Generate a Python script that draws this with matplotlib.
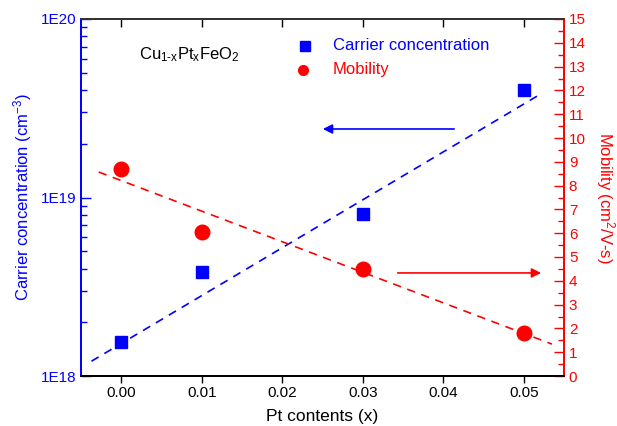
import matplotlib
matplotlib.use("Agg")
import matplotlib.pyplot as plt
import numpy as np
from matplotlib.ticker import LogLocator, MultipleLocator, FixedLocator, NullFormatter

plt.rcParams['font.family'] = ['Liberation Sans', 'DejaVu Sans']
plt.rcParams['mathtext.fontset'] = 'custom'
plt.rcParams['mathtext.rm'] = 'Liberation Sans'
plt.rcParams['mathtext.it'] = 'Liberation Sans'

pt_x = [0.00, 0.01, 0.03, 0.05]
carrier = [1.56e18, 3.84e18, 8.06e18, 4.0e19]
mobility = [8.68, 6.04, 4.5, 1.79]

carrier_fit_x = [-0.0037, 0.05235]
carrier_fit_y = [1.21e18, 3.86e19]
mobility_fit_x = [-0.0028, 0.0535]
mobility_fit_y = [8.57, 1.34]

xticks = [0.00, 0.01, 0.02, 0.03, 0.04, 0.05]
xtick_labels = ["0.00", "0.01", "0.02", "0.03", "0.04", "0.05"]

BLUE = '#0000FF'
RED = '#FF0000'

fig = plt.figure(figsize=(6.17, 4.26), dpi=100)
ax = fig.add_axes([81/617, 1-376/426, (564-81)/617, (376-19)/426])
ax2 = ax.twinx()

ax.set_yscale('log')
ax.set_xlim(-0.005, 0.055)
ax.set_ylim(1e18, 1e20)
ax2.set_ylim(0, 15)

ax.plot(carrier_fit_x, carrier_fit_y, ls=(0, (5, 4)), color=BLUE, lw=1.2)
ax.plot(pt_x, carrier, 's', color=BLUE, ms=9, ls='none')
ax2.plot(mobility_fit_x, mobility_fit_y, ls=(0, (5, 4)), color=RED, lw=1.2)
ax2.plot(pt_x, mobility, 'o', color=RED, ms=10.5, ls='none')

# arrows
ax.annotate('', xy=(0.0247, 2.42e19), xytext=(0.0417, 2.42e19),
            arrowprops=dict(arrowstyle='-|>', color=BLUE, lw=1.2, mutation_scale=14))
ax2.annotate('', xy=(0.0525, 4.33), xytext=(0.034, 4.33),
             arrowprops=dict(arrowstyle='-|>', color=RED, lw=1.2, mutation_scale=14))

# ticks
ax.set_xticks(xticks)
ax.set_xticklabels(xtick_labels)
ax.tick_params(axis='x', which='major', direction='out', length=5, width=1, labelsize=11, top=False, pad=2)
ax.xaxis.set_minor_locator(FixedLocator([]))
ax.yaxis.set_major_locator(FixedLocator([1e18, 1e19, 1e20]))
ax.set_yticklabels(['1E18', '1E19', '1E20'])
ax.yaxis.set_minor_locator(LogLocator(base=10, subs=np.arange(2, 10)))
ax.yaxis.set_minor_formatter(NullFormatter())
ax.tick_params(axis='y', which='major', direction='in', length=7, width=1, colors=BLUE, labelsize=11)
ax.tick_params(axis='y', which='minor', direction='in', length=4, width=1, colors=BLUE)
# top ticks inward
secx = ax.secondary_xaxis('top')
secx.set_xticks(xticks)
secx.tick_params(axis='x', direction='in', length=6, width=1, labeltop=False)
secx.spines['top'].set_visible(False)

ax2.yaxis.set_major_locator(MultipleLocator(1))
ax2.yaxis.set_minor_locator(MultipleLocator(0.5))
ax2.tick_params(axis='y', which='major', direction='in', length=7, width=1, colors=RED, labelsize=11)
ax2.tick_params(axis='y', which='minor', direction='in', length=4, width=1, colors=RED)

for a in (ax, ax2):
    a.spines['left'].set_color(BLUE)
    a.spines['right'].set_color(RED)
    a.spines['top'].set_color('#333333')
    a.spines['bottom'].set_color('black')
    for s in a.spines.values():
        s.set_linewidth(1.3)

ax.set_xlabel('Pt contents (x)', fontsize=12.5, labelpad=7)
ax.set_ylabel('Carrier concentration (cm$^{-3}$)', fontsize=12, color=BLUE, labelpad=5)
ax2.set_ylabel('Mobility (cm$^{2}$/V-s)', fontsize=12, color=RED, rotation=270, labelpad=22)

ax.text(0.0022, 6.28e19, r'Cu$_{1\text{-}x}$Pt$_{x}$FeO$_{2}$',
        fontsize=12, ha='left', va='center')
# legend
ax.plot([0.0228], [7.1e19], 's', color=BLUE, ms=6.5)
ax.text(0.0263, 7.1e19, 'Carrier concentration', color=BLUE, fontsize=12, va='center')
ax2.plot([0.0226], [12.86], 'o', color=RED, ms=7)
ax2.text(0.0263, 12.86, 'Mobility', color=RED, fontsize=12, va='center')

fig.savefig('out.png', dpi=100)
